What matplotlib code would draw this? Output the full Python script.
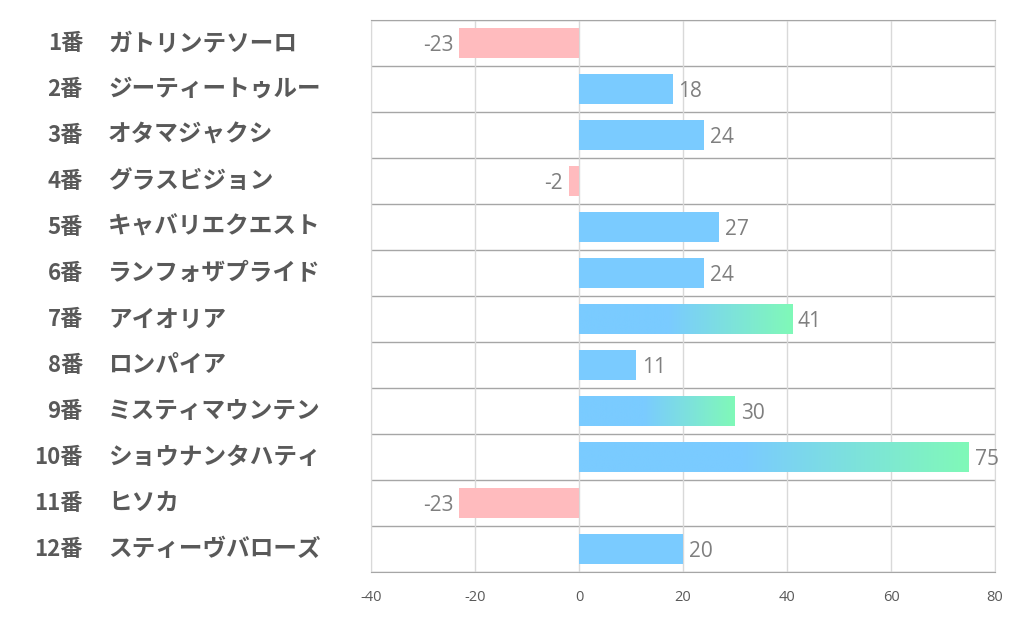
import numpy as np
import matplotlib.pyplot as plt
from matplotlib.colors import LinearSegmentedColormap
from matplotlib.transforms import blended_transform_factory

plt.rcParams['font.family'] = ['Noto Sans CJK JP', 'DejaVu Sans']

# データ
numbers = ['1番', '2番', '3番', '4番', '5番', '6番',
           '7番', '8番', '9番', '10番', '11番', '12番']
names = ['ガトリンテソーロ', 'ジーティートゥルー', 'オタマジャクシ', 'グラスビジョン',
         'キャバリエクエスト', 'ランフォザプライド', 'アイオリア', 'ロンパイア',
         'ミスティマウンテン', 'ショウナンタハティ', 'ヒソカ', 'スティーヴバローズ']
values = [-23, 18, 24, -2, 27, 24, 41, 11, 30, 75, -23, 20]
x_ticks = [-40, -20, 0, 20, 40, 60, 80]

blue = '#7ACBFF'
green = '#80F9B8'
pink = '#FFBBBE'

fig = plt.figure(figsize=(10.22, 6.26), dpi=100)
ax = fig.add_axes([371 / 1022, 1 - 572 / 626, 624 / 1022, 552 / 626])

y = np.arange(len(values))
colors = [blue if v >= 0 else pink for v in values]
bars = ax.barh(y, values, height=0.67, color=colors, zorder=2)

# 上位3頭はグラデーション
top3 = np.argsort(values)[-3:]
cmap = LinearSegmentedColormap.from_list('bg', [(0, blue), (0.42, blue), (1, green)])
grad = np.linspace(0, 1, 256).reshape(1, -1)
for i in top3:
    b = bars[i]
    b.set_facecolor('none')
    im = ax.imshow(grad, cmap=cmap, aspect='auto', zorder=2,
                   extent=[0, values[i], i + 0.335, i - 0.335])
    im.set_clip_path(b)

ax.set_xlim(-40, 80)
ax.set_ylim(len(values) - 0.5, -0.5)

# 罫線
ax.set_xticks(x_ticks)
ax.set_xticklabels([str(t) for t in x_ticks], fontsize=10.5, color='#595959',
                   family=['Open Sans', 'DejaVu Sans'])
ax.tick_params(axis='x', length=0, pad=13)
ax.set_yticks([])
ax.grid(axis='x', color='#D9D9D9', lw=1, zorder=0)
for yy in np.arange(-0.5, len(values), 1):
    ax.axhline(yy, color='#A6A6A6', lw=1, zorder=1)
for s in ['left', 'right']:
    ax.spines[s].set_color('#D9D9D9')
for s in ['top', 'bottom']:
    ax.spines[s].set_color('#A6A6A6')

# 数値ラベル
for i, v in enumerate(values):
    if v >= 0:
        ax.text(v + 1.1, i + 0.05, str(v), ha='left', va='center',
                fontsize=15, color='#7F7F7F', family=['Open Sans', 'DejaVu Sans'])
    else:
        ax.text(v - 1.1, i + 0.05, str(v), ha='right', va='center',
                fontsize=15, color='#7F7F7F', family=['Open Sans', 'DejaVu Sans'])

# 馬番・馬名
tr = blended_transform_factory(fig.transFigure, ax.transData)
for i in range(len(values)):
    ax.text(83 / 1022, i, numbers[i], transform=tr, ha='right', va='center',
            fontsize=16, fontweight='bold', color='#595959')
    ax.text(108 / 1022, i, names[i], transform=tr, ha='left', va='center',
            fontsize=17, fontweight='bold', color='#595959')

fig.savefig('out.png', dpi=100)
